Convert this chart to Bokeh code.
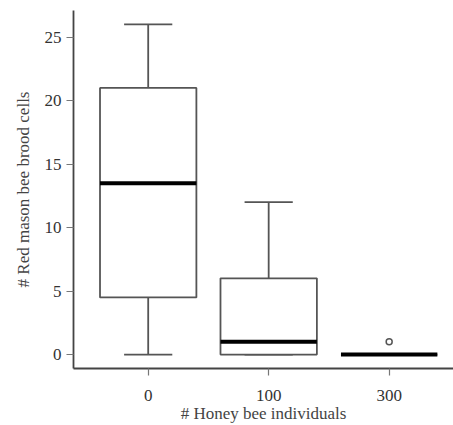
from bokeh.plotting import figure
from bokeh.models import FixedTicker, Range1d
from bokeh.embed import file_html
from bokeh.resources import INLINE

categories = ["0", "100", "300"]
lower = [0, 0, 0]
q1 = [4.5, 0, 0]
median = [13.5, 1, 0]
q3 = [21, 6, 0]
upper = [26, 12, 0]
outlier_group = ["300"]
outlier_value = [1]

xs = [i + 1 for i in range(len(categories))]
box_half = 0.4
cap_half = 0.2

p = figure(width=453, height=425, output_backend="svg", toolbar_location=None,
           x_range=Range1d(0.38, 3.534), y_range=Range1d(-1.1, 27.1),
           min_border_left=73, min_border_right=0, min_border_top=10, min_border_bottom=57)
p.xgrid.visible = False
p.ygrid.visible = False
p.outline_line_color = None
p.background_fill_color = "white"
p.border_fill_color = "white"

grey = "#555555"
# whiskers
p.segment(x0=xs, y0=q3, x1=xs, y1=upper, line_color=grey, line_width=1.8)
p.segment(x0=xs, y0=lower, x1=xs, y1=q1, line_color=grey, line_width=1.8)
p.segment(x0=[x - cap_half for x in xs], y0=upper, x1=[x + cap_half for x in xs], y1=upper,
          line_color=grey, line_width=1.8)
p.segment(x0=[x - cap_half for x in xs], y0=lower, x1=[x + cap_half for x in xs], y1=lower,
          line_color=grey, line_width=1.8)
# boxes
p.quad(left=[x - box_half for x in xs], right=[x + box_half for x in xs], bottom=q1, top=q3,
       fill_color="white", line_color=grey, line_width=1.8)
# medians
p.segment(x0=[x - box_half for x in xs], y0=median, x1=[x + box_half for x in xs], y1=median,
          line_color="black", line_width=4)
# outliers
ox = [xs[categories.index(g)] for g in outlier_group]
p.scatter(ox, outlier_value, marker="circle", size=6, fill_color="white", line_color=grey, line_width=1.5)

font = "Liberation Serif"
for ax in (p.xaxis[0], p.yaxis[0]):
    ax.axis_line_color = "#444444"
    ax.axis_line_width = 1.8
    ax.major_tick_line_color = "#777777"
    ax.major_tick_line_width = 1.2
    ax.major_tick_in = 0
    ax.major_tick_out = 7
    ax.minor_tick_line_color = None
    ax.major_label_text_font = font
    ax.major_label_text_font_size = "17px"
    ax.major_label_text_color = "#333333"
    ax.axis_label_text_font = font
    ax.axis_label_text_font_style = "normal"
    ax.axis_label_text_font_size = "17px"
    ax.axis_label_text_color = "#444444"

p.xaxis[0].ticker = FixedTicker(ticks=xs)
p.xaxis[0].major_label_overrides = {x: c for x, c in zip(xs, categories)}
p.xaxis[0].axis_label = "# Honey bee individuals"
p.xaxis[0].major_label_standoff = 14
p.xaxis[0].axis_label_standoff = 0
p.yaxis[0].ticker = FixedTicker(ticks=[0, 5, 10, 15, 20, 25])
p.yaxis[0].axis_label = "# Red mason bee brood cells"
p.yaxis[0].major_label_standoff = 5
p.yaxis[0].axis_label_standoff = 9

open("out.html", "w").write(file_html(p, INLINE))
